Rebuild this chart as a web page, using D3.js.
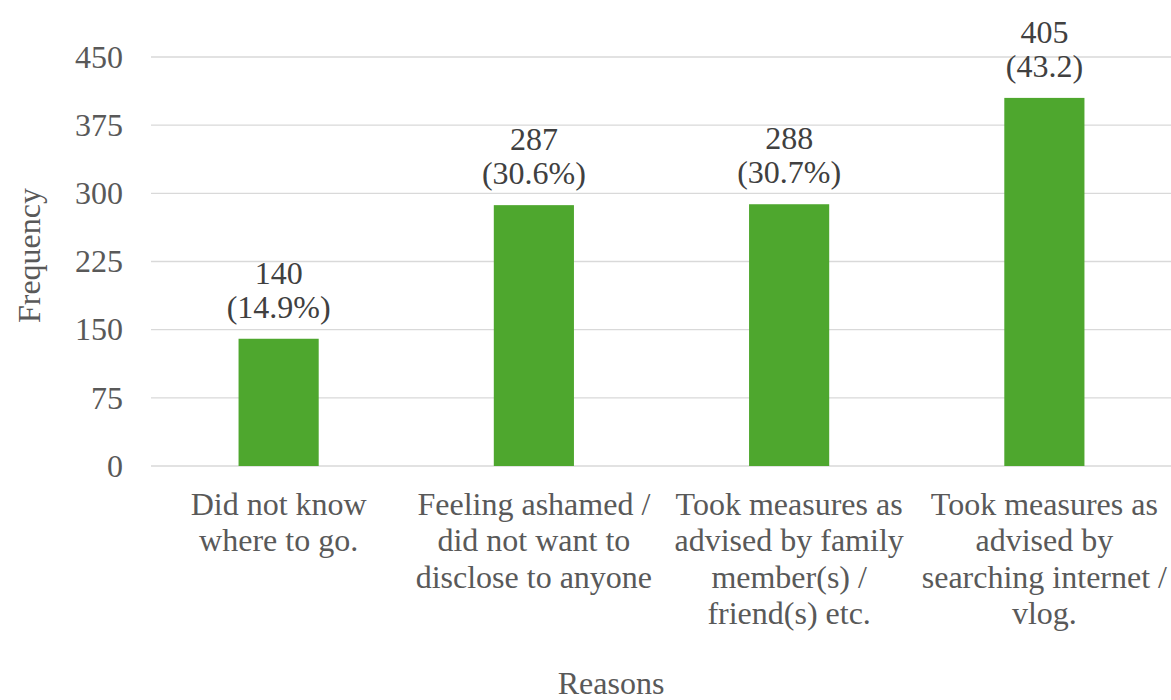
<!DOCTYPE html>
<html>
<head>
<meta charset="utf-8">
<script src="https://cdn.jsdelivr.net/npm/d3@7"></script>
</head>
<body style="margin:0">
<svg id="chart" width="1171" height="700"></svg>
<script>
// Reasons for not seeking care, with frequency and share of respondents
const categories = [
  ["Did not know", "where to go."],
  ["Feeling ashamed /", "did not want to", "disclose to anyone"],
  ["Took measures as", "advised by family", "member(s) /", "friend(s) etc."],
  ["Took measures as", "advised by", "searching internet /", "vlog."]
];
const frequencies = [140, 287, 288, 405];
const percentLabels = ["(14.9%)", "(30.6%)", "(30.7%)", "(43.2)"];
const yTicks = [0, 75, 150, 225, 300, 375, 450];

const fontName = "Tinos";
const svg = d3.select("#chart");
const margin = { top: 57, right: 0, bottom: 234, left: 151 };
const H = 700;
const plotH = H - margin.top - margin.bottom;

const textColor = "#595959";
const fontSize = 32;
const lineH = 36.6;

const x = d3.scaleBand()
  .domain(d3.range(categories.length))
  .range([margin.left, 1172])
  .padding(0);

const y = d3.scaleLinear()
  .domain([0, 450])
  .range([margin.top + plotH, margin.top]);

const barW = x.bandwidth() * 0.314;

function styleText(sel, fill) {
  return sel.attr("fill", fill)
    .attr("font-family", fontName)
    .style("font-family", `"${fontName}", monospace`)
    .attr("font-size", fontSize);
}

// horizontal gridlines
svg.append("g")
  .selectAll("line")
  .data(yTicks)
  .join("line")
  .attr("x1", margin.left)
  .attr("x2", 1171)
  .attr("y1", d => y(d))
  .attr("y2", d => y(d))
  .attr("stroke", "#d9d9d9")
  .attr("stroke-width", 1.4);

// y axis tick labels
const yAxis = d3.axisLeft(y).tickValues(yTicks).tickSize(0).tickPadding(28);
svg.append("g")
  .attr("transform", `translate(${margin.left},0)`)
  .call(yAxis)
  .attr("font-family", null)
  .call(g => g.select(".domain").remove())
  .call(g => styleText(g.selectAll("text"), textColor));

// bars
svg.append("g")
  .selectAll("rect")
  .data(frequencies)
  .join("rect")
  .attr("x", (d, i) => x(i) + x.bandwidth() / 2 - barW / 2)
  .attr("y", d => y(d))
  .attr("width", barW)
  .attr("height", d => y(0) - y(d))
  .attr("fill", "#4ea72e");

// value labels above bars
const labels = svg.append("g");
frequencies.forEach((v, i) => {
  const cx = x(i) + x.bandwidth() / 2;
  [String(v), percentLabels[i]].forEach((s, j) => {
    labels.append("text")
      .attr("x", cx)
      .attr("y", y(v) - (j === 0 ? 55 : 21))
      .attr("text-anchor", "middle")
      .call(styleText, "#404040")
      .text(s);
  });
});

// category labels
const cats = svg.append("g");
categories.forEach((lines, i) => {
  const cx = x(i) + x.bandwidth() / 2;
  lines.forEach((ln, j) => {
    cats.append("text")
      .attr("x", cx)
      .attr("y", y(0) + 48.5 + j * lineH)
      .attr("text-anchor", "middle")
      .call(styleText, textColor)
      .text(ln);
  });
});

// axis titles
svg.append("text")
  .attr("transform", `translate(40,${(y(0) + y(450)) / 2 - 6}) rotate(-90)`)
  .attr("text-anchor", "middle")
  .call(styleText, textColor)
  .text("Frequency");

svg.append("text")
  .attr("x", 611)
  .attr("y", 694)
  .attr("text-anchor", "middle")
  .call(styleText, textColor)
  .text("Reasons");
</script>
</body>
</html>
